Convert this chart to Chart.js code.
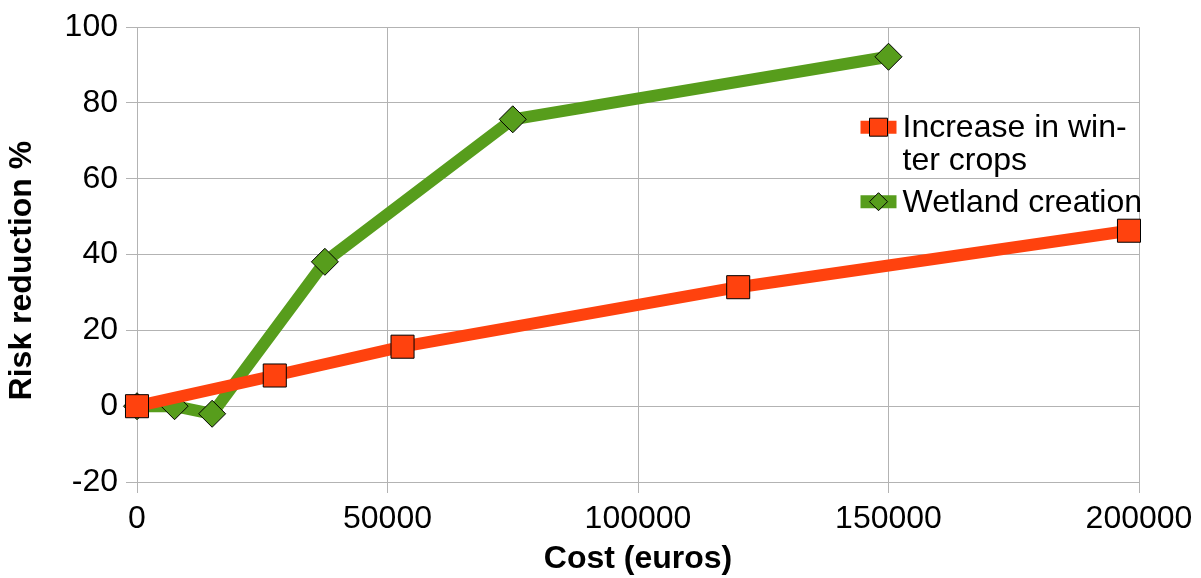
<!DOCTYPE html>
<html>
<head>
<meta charset="utf-8">
<title>Risk reduction vs cost</title>
<script src="https://cdn.jsdelivr.net/npm/chart.js@4/dist/chart.umd.min.js"></script>
<style>
  html, body { margin: 0; padding: 0; background: #ffffff; }
  #wrap { width: 1201px; height: 578px; position: relative; }
</style>
</head>
<body>
<div id="wrap"><canvas id="chart"></canvas></div>
<script>
// Cost (euros) of each measure and the resulting risk reduction (%)
const winterCropsLabel = 'Increase in winter crops';
const winterCropsLegendLines = ['Increase in win-', 'ter crops'];
const winterCropsCost = [0, 27500, 53000, 120000, 198000];
const winterCropsReduction = [0, 8.1, 15.7, 31.4, 46.3];

const wetlandLabel = 'Wetland creation';
const wetlandLegendLines = ['Wetland creation'];
const wetlandCost = [0, 7500, 15000, 37500, 75000, 150000];
const wetlandReduction = [0, 0, -2, 38.1, 75.7, 92.2];

const xTitle = 'Cost (euros)';
const yTitle = 'Risk reduction %';

const RED = '#ff420e';
const GREEN = '#579d1c';
const GRID = '#b3b3b3';
const FONT = "'Liberation Sans', Arial, sans-serif";
const TEXT_SIZE = 32;

function toPoints(xs, ys) {
  return xs.map((x, i) => ({ x: x, y: ys[i] }));
}

// Legend drawn inside the plot area, near its right edge
const innerLegend = {
  id: 'innerLegend',
  afterDatasetsDraw(chart) {
    const ctx = chart.ctx;
    const area = chart.chartArea;
    const entries = [
      { ds: chart.data.datasets[0], lines: winterCropsLegendLines, y: area.top + 100 },
      { ds: chart.data.datasets[1], lines: wetlandLegendLines, y: area.top + 174.5 }
    ];
    const x0 = area.right - 278.5;
    const x1 = area.right - 242.5;
    const cx = (x0 + x1) / 2;
    const tx = area.right - 236.5;
    ctx.save();
    entries.forEach(e => {
      ctx.strokeStyle = e.ds.borderColor;
      ctx.lineWidth = 13;
      ctx.lineCap = 'butt';
      ctx.beginPath();
      ctx.moveTo(x0, e.y);
      ctx.lineTo(x1, e.y);
      ctx.stroke();
      ctx.fillStyle = e.ds.pointBackgroundColor;
      ctx.strokeStyle = '#000000';
      ctx.lineWidth = 1;
      ctx.beginPath();
      if (e.ds.pointStyle === 'rect') {
        ctx.rect(cx - 9, e.y - 9, 18, 18);
      } else {
        ctx.moveTo(cx, e.y - 9);
        ctx.lineTo(cx + 9, e.y);
        ctx.lineTo(cx, e.y + 9);
        ctx.lineTo(cx - 9, e.y);
        ctx.closePath();
      }
      ctx.fill();
      ctx.stroke();
      ctx.fillStyle = '#000000';
      ctx.font = TEXT_SIZE + 'px ' + FONT;
      ctx.textAlign = 'left';
      ctx.textBaseline = 'middle';
      e.lines.forEach((t, i) => ctx.fillText(t, tx, e.y + 1 + i * 33));
    });
    ctx.restore();
  }
};

// Vertical axis title, drawn alongside the tick labels
const yAxisTitle = {
  id: 'yAxisTitle',
  afterDraw(chart) {
    const ctx = chart.ctx;
    const area = chart.chartArea;
    ctx.save();
    ctx.translate(22.5, (area.top + area.bottom) / 2 + 16);
    ctx.rotate(-Math.PI / 2);
    ctx.fillStyle = '#000000';
    ctx.font = 'bold ' + TEXT_SIZE + 'px ' + FONT;
    ctx.textAlign = 'center';
    ctx.textBaseline = 'middle';
    ctx.fillText(yTitle, 0, 0);
    ctx.restore();
  }
};

new Chart(document.getElementById('chart'), {
  type: 'line',
  data: {
    datasets: [
      {
        label: winterCropsLabel,
        data: toPoints(winterCropsCost, winterCropsReduction),
        borderColor: RED,
        backgroundColor: RED,
        borderWidth: 12,
        pointStyle: 'rect',
        pointRadius: 16.3,
        pointHoverRadius: 16.3,
        pointBackgroundColor: RED,
        pointBorderColor: '#000000',
        pointBorderWidth: 1,
        tension: 0,
        borderJoinStyle: 'round',
        clip: false
      },
      {
        label: wetlandLabel,
        data: toPoints(wetlandCost, wetlandReduction),
        borderColor: GREEN,
        backgroundColor: GREEN,
        borderWidth: 12,
        pointStyle: 'rectRot',
        pointRadius: 13.5,
        pointHoverRadius: 13.5,
        pointBackgroundColor: GREEN,
        pointBorderColor: '#000000',
        pointBorderWidth: 1,
        tension: 0,
        borderJoinStyle: 'round',
        clip: false
      }
    ]
  },
  options: {
    responsive: true,
    maintainAspectRatio: false,
    animation: false,
    events: [],
    layout: { padding: { left: 0, right: 62, top: 24, bottom: 0 } },
    plugins: {
      legend: { display: false },
      tooltip: { enabled: false }
    },
    scales: {
      x: {
        type: 'linear',
        min: 0,
        max: 200000,
        afterFit(scale) { scale.height = 96; },
        ticks: {
          stepSize: 50000,
          color: '#000000',
          padding: 7,
          maxRotation: 0,
          font: { family: FONT, size: TEXT_SIZE },
          callback: v => String(v)
        },
        grid: { color: GRID, lineWidth: 1, tickLength: 11, drawTicks: true },
        border: { display: false },
        title: {
          display: true,
          text: xTitle,
          color: '#000000',
          padding: { top: 0, bottom: 0 },
          font: { family: FONT, size: TEXT_SIZE, weight: 'bold' }
        }
      },
      y: {
        type: 'linear',
        min: -20,
        max: 100,
        afterFit(scale) { scale.width = 137; },
        ticks: {
          stepSize: 20,
          color: '#000000',
          padding: 8,
          font: { family: FONT, size: TEXT_SIZE }
        },
        grid: { color: GRID, lineWidth: 1, tickLength: 11, drawTicks: true },
        border: { display: false }
      }
    }
  },
  plugins: [innerLegend, yAxisTitle]
});
</script>
</body>
</html>
